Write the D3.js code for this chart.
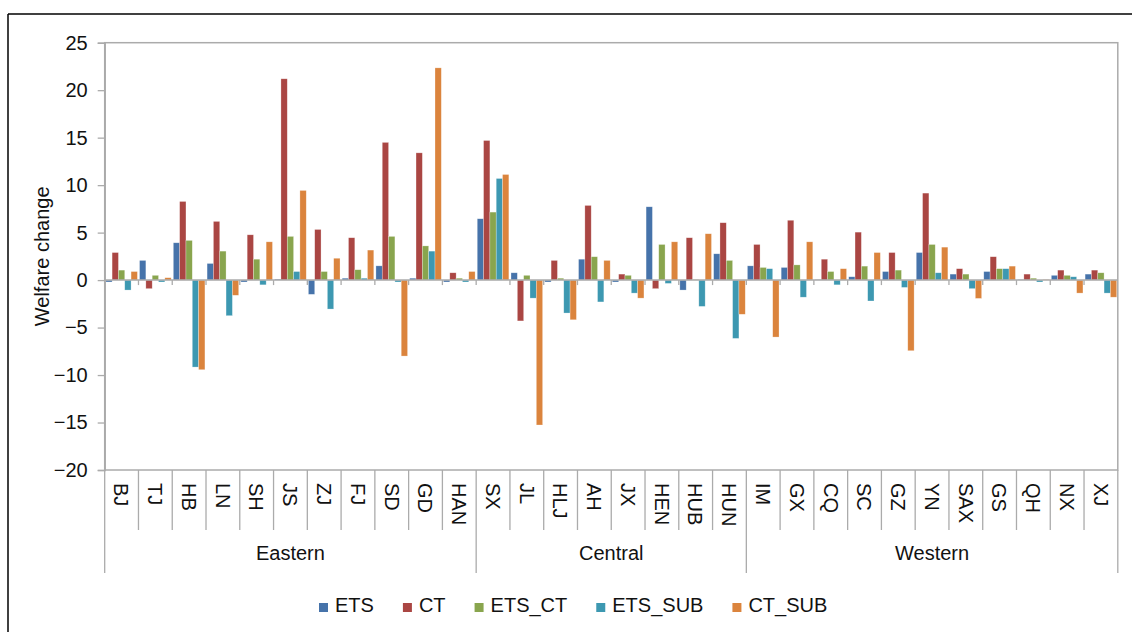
<!DOCTYPE html>
<html>
<head>
<meta charset="utf-8">
<script src="https://cdn.jsdelivr.net/npm/d3@7"></script>
<style>
  html, body { margin: 0; padding: 0; background: #fff; }
  svg { display: block; font-family: "Liberation Sans", Arial, sans-serif; }
</style>
</head>
<body>
<svg id="chart" width="1132" height="632"></svg>
<script>
const provinces = ["BJ","TJ","HB","LN","SH","JS","ZJ","FJ","SD","GD","HAN",
                   "SX","JL","HLJ","AH","JX","HEN","HUB","HUN",
                   "IM","GX","CQ","SC","GZ","YN","SAX","GS","QH","NX","XJ"];
const regions = ["Eastern","Central","Western"];
const regionOf = ["Eastern","Eastern","Eastern","Eastern","Eastern","Eastern","Eastern","Eastern","Eastern","Eastern","Eastern",
                  "Central","Central","Central","Central","Central","Central","Central","Central",
                  "Western","Western","Western","Western","Western","Western","Western","Western","Western","Western","Western"];
const seriesNames = ["ETS","CT","ETS_CT","ETS_SUB","CT_SUB"];
const seriesColors = ["#4673AA","#AA4643","#89A54E","#3D98B1","#DB843D"];

const ETS     = [-0.2, 2.07, 3.93, 1.75, -0.2, 0.1, -1.5, 0.2, 1.5, 0.2, -0.2,
                 6.46, 0.77, -0.2, 2.2, -0.2, 7.72, -1.05, 2.77,
                 1.5, 1.33, 0.05, 0.35, 0.9, 2.9, 0.63, 0.9, 0.05, 0.5, 0.63];
const CT      = [2.9, -0.9, 8.28, 6.18, 4.77, 21.2, 5.33, 4.46, 14.5, 13.4, 0.77,
                 14.7, -4.3, 2.07, 7.86, 0.63, -0.9, 4.46, 6.04,
                 3.75, 6.3, 2.2, 5.05, 2.9, 9.16, 1.2, 2.46, 0.63, 1.05, 1.05];
const ETS_CT  = [1.05, 0.5, 4.18, 3.05, 2.2, 4.6, 0.9, 1.09, 4.6, 3.6, 0.2,
                 7.16, 0.5, 0.2, 2.46, 0.5, 3.75, 0.05, 2.07,
                 1.33, 1.6, 0.9, 1.47, 1.05, 3.75, 0.63, 1.2, 0.2, 0.5, 0.77];
const ETS_SUB = [-1.05, -0.2, -9.16, -3.75, -0.5, 0.9, -3.05, 0.2, -0.2, 3.05, -0.2,
                 10.7, -1.9, -3.47, -2.3, -1.37, -0.35, -2.77, -6.14,
                 1.2, -1.8, -0.5, -2.2, -0.77, 0.77, -0.9, 1.2, -0.2, 0.35, -1.37];
const CT_SUB  = [0.9, 0.25, -9.44, -1.6, 4.03, 9.44, 2.3, 3.16, -8.0, 22.35, 0.9,
                 11.12, -15.26, -4.18, 2.07, -1.9, 4.03, 4.88, -3.6,
                 -6.0, 4.03, 1.2, 2.9, -7.44, 3.47, -1.93, 1.47, 0.05, -1.37, -1.8];
const yTicks = [-20, -15, -10, -5, 0, 5, 10, 15, 20, 25];
const yTitle = "Welfare change";

const seriesValues = [ETS, CT, ETS_CT, ETS_SUB, CT_SUB];

const svg = d3.select("#chart");
const W = 1132, H = 632;
const plot = { left: 104.7, right: 1117.8, top: 42.7, bottom: 470 };
const axisColor = "#ababab";

// outer frame (partial, black)
svg.append("line").attr("x1", 8).attr("x2", W).attr("y1", 14).attr("y2", 14)
   .attr("stroke", "#000").attr("stroke-width", 1.5);
svg.append("line").attr("x1", 8).attr("x2", 8).attr("y1", 14).attr("y2", H)
   .attr("stroke", "#000").attr("stroke-width", 1.5);

const x = d3.scaleBand().domain(provinces).range([plot.left, plot.right]).paddingInner(0).paddingOuter(0);
const xs = d3.scaleBand().domain(seriesNames).range([0, x.bandwidth()]).paddingInner(0).paddingOuter(0.17);
const y = d3.scaleLinear().domain([-20, 25]).range([plot.bottom, plot.top]);

// plot frame
svg.append("rect").attr("x", plot.left).attr("y", plot.top)
   .attr("width", plot.right - plot.left).attr("height", plot.bottom - plot.top)
   .attr("fill", "none").attr("stroke", axisColor).attr("stroke-width", 1.5);

// bars
const g = svg.append("g");
seriesNames.forEach((s, si) => {
  g.append("g").selectAll("rect").data(provinces.map((p, i) => ({ p, v: seriesValues[si][i] })))
    .join("rect")
    .attr("x", d => x(d.p) + xs(s))
    .attr("width", xs.bandwidth())
    .attr("y", d => y(Math.max(0, d.v)))
    .attr("height", d => Math.abs(y(d.v) - y(0)))
    .attr("fill", seriesColors[si])
    .attr("stroke", "rgba(255,255,255,0.45)")
    .attr("stroke-width", 0.6);
});

// zero axis with boundary ticks
const zeroAxis = svg.append("g");
zeroAxis.append("line").attr("x1", plot.left).attr("x2", plot.right)
  .attr("y1", y(0)).attr("y2", y(0)).attr("stroke", axisColor).attr("stroke-width", 1.5);
zeroAxis.selectAll("line.tk").data(provinces.slice(1)).join("line").attr("class", "tk")
  .attr("x1", d => x(d)).attr("x2", d => x(d))
  .attr("y1", y(0)).attr("y2", y(0) + 5)
  .attr("stroke", axisColor).attr("stroke-width", 1.3);

// y axis
const yAxis = svg.append("g").attr("transform", `translate(${plot.left},0)`)
  .call(d3.axisLeft(y).tickValues(yTicks).tickSize(7).tickPadding(10)
        .tickFormat(d => d < 0 ? "\u2212" + Math.abs(d) : d));
yAxis.select(".domain").attr("stroke", axisColor).attr("stroke-width", 1.5);
yAxis.selectAll(".tick line").attr("stroke", axisColor).attr("stroke-width", 1.3);
yAxis.selectAll(".tick text").attr("font-size", 20).attr("fill", "#111")
  .attr("font-family", "Liberation Sans, Arial, sans-serif");

// y title
svg.append("text").attr("transform", `translate(49,${(plot.top + plot.bottom) / 2}) rotate(-90)`)
  .attr("text-anchor", "middle").attr("font-size", 20).attr("fill", "#111").text(yTitle);

// category separators
const catLineBottom = 530, groupLineBottom = 573;
const bounds = provinces.map(p => x(p)).concat([plot.right]);
svg.append("g").selectAll("line").data(bounds).join("line")
  .attr("x1", d => d).attr("x2", d => d)
  .attr("y1", plot.bottom)
  .attr("y2", (d, i) => {
    if (i === 0 || i === provinces.length) return groupLineBottom;
    return regionOf[i] !== regionOf[i - 1] ? groupLineBottom : catLineBottom;
  })
  .attr("stroke", axisColor).attr("stroke-width", 1.3);

// category labels (rotated 90)
svg.append("g").selectAll("text").data(provinces).join("text")
  .attr("transform", d => `translate(${x(d) + x.bandwidth() / 2},483) rotate(90)`)
  .attr("dy", "0.36em").attr("text-anchor", "start")
  .attr("font-size", 20).attr("fill", "#111").text(d => d);

// region labels
regions.forEach(r => {
  const idx = provinces.map((p, i) => i).filter(i => regionOf[i] === r);
  const x0 = x(provinces[idx[0]]);
  const x1 = x(provinces[idx[idx.length - 1]]) + x.bandwidth();
  svg.append("text").attr("x", (x0 + x1) / 2).attr("y", 560)
    .attr("text-anchor", "middle").attr("font-size", 20).attr("fill", "#111").text(r);
});

// legend
const legend = svg.append("g");
let lx = 319;
seriesNames.forEach((s, si) => {
  legend.append("rect").attr("x", lx).attr("y", 603).attr("width", 9).attr("height", 9)
    .attr("fill", seriesColors[si]);
  const t = legend.append("text").attr("x", lx + 16).attr("y", 612)
    .attr("font-size", 20).attr("fill", "#111").text(s);
  lx += 16 + t.node().getComputedTextLength() + 29;
});
</script>
</body>
</html>
